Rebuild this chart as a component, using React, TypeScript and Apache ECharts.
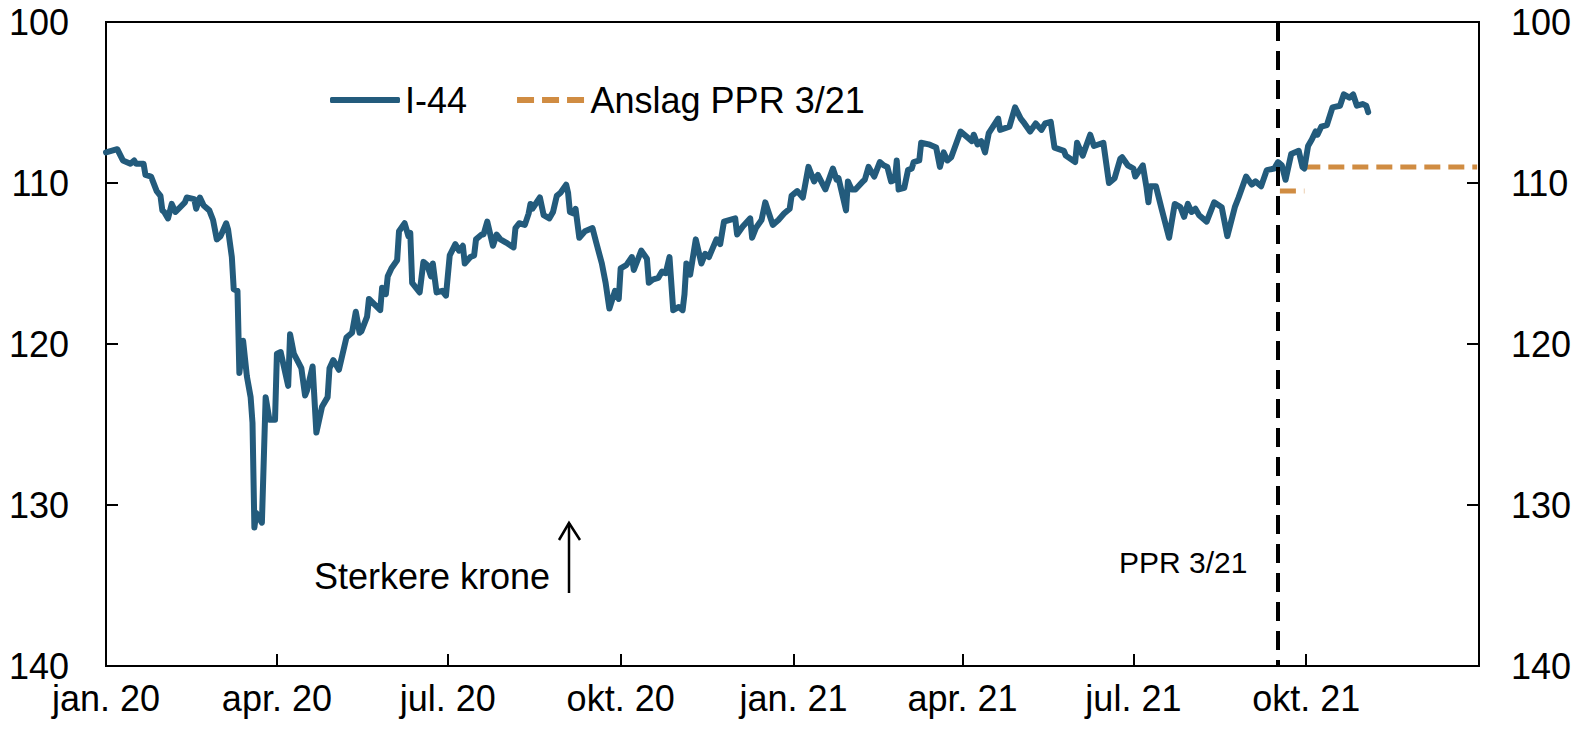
import React, { useEffect, useRef } from "react";
import * as echarts from "echarts";

// I-44 daily index (inverted axis: lower = stronger krone)
const i44Dates = [
  "2020-01-01","2020-01-07","2020-01-10","2020-01-14","2020-01-16","2020-01-17","2020-01-21","2020-01-22","2020-01-25","2020-01-28",
  "2020-01-30","2020-01-31","2020-02-01","2020-02-03","2020-02-05","2020-02-07","2020-02-12","2020-02-13","2020-02-17","2020-02-18",
  "2020-02-20","2020-02-22","2020-02-25","2020-02-27","2020-02-29","2020-03-02","2020-03-05","2020-03-06","2020-03-08","2020-03-09",
  "2020-03-11","2020-03-12","2020-03-14","2020-03-16","2020-03-18","2020-03-19","2020-03-20","2020-03-21","2020-03-24","2020-03-26",
  "2020-03-28","2020-03-31","2020-04-01","2020-04-03","2020-04-07","2020-04-08","2020-04-10","2020-04-14","2020-04-16","2020-04-17",
  "2020-04-20","2020-04-22","2020-04-25","2020-04-28","2020-04-29","2020-05-01","2020-05-04","2020-05-08","2020-05-11","2020-05-13",
  "2020-05-15","2020-05-16","2020-05-19","2020-05-20","2020-05-26","2020-05-27","2020-05-29","2020-05-30","2020-06-01","2020-06-04",
  "2020-06-05","2020-06-08","2020-06-10","2020-06-11","2020-06-12","2020-06-16","2020-06-18","2020-06-20","2020-06-22","2020-06-23",
  "2020-06-25","2020-06-28","2020-06-30","2020-07-02","2020-07-05","2020-07-07","2020-07-09","2020-07-10","2020-07-13","2020-07-15",
  "2020-07-16","2020-07-19","2020-07-20","2020-07-22","2020-07-23","2020-07-25","2020-07-27","2020-07-29","2020-08-01","2020-08-05",
  "2020-08-06","2020-08-08","2020-08-11","2020-08-13","2020-08-14","2020-08-15","2020-08-19","2020-08-21","2020-08-24","2020-08-26",
  "2020-08-28","2020-08-30","2020-09-02","2020-09-03","2020-09-04","2020-09-06","2020-09-07","2020-09-09","2020-09-12","2020-09-16",
  "2020-09-18","2020-09-21","2020-09-23","2020-09-25","2020-09-28","2020-09-30","2020-10-01","2020-10-04","2020-10-07","2020-10-08",
  "2020-10-10","2020-10-12","2020-10-15","2020-10-16","2020-10-18","2020-10-21","2020-10-23","2020-10-25","2020-10-27","2020-10-29",
  "2020-11-01","2020-11-03","2020-11-04","2020-11-05","2020-11-07","2020-11-10","2020-11-13","2020-11-15","2020-11-17","2020-11-21",
  "2020-11-23","2020-11-25","2020-12-01","2020-12-02","2020-12-05","2020-12-09","2020-12-10","2020-12-12","2020-12-15","2020-12-17",
  "2020-12-19","2020-12-21","2020-12-24","2020-12-27","2020-12-30","2020-12-31","2021-01-03","2021-01-06","2021-01-09","2021-01-12",
  "2021-01-14","2021-01-18","2021-01-22","2021-01-24","2021-01-25","2021-01-29","2021-01-30","2021-02-01","2021-02-03","2021-02-07",
  "2021-02-08","2021-02-10","2021-02-13","2021-02-16","2021-02-18","2021-02-20","2021-02-22","2021-02-24","2021-02-25","2021-02-26",
  "2021-03-01","2021-03-03","2021-03-05","2021-03-06","2021-03-09","2021-03-10","2021-03-14","2021-03-18","2021-03-20","2021-03-22",
  "2021-03-24","2021-03-26","2021-03-31","2021-04-06","2021-04-07","2021-04-09","2021-04-11","2021-04-13","2021-04-15","2021-04-20",
  "2021-04-21","2021-04-26","2021-04-29","2021-05-02","2021-05-04","2021-05-07","2021-05-10","2021-05-13","2021-05-15","2021-05-18",
  "2021-05-20","2021-05-25","2021-05-26","2021-05-31","2021-06-01","2021-06-04","2021-06-08","2021-06-10","2021-06-15","2021-06-18",
  "2021-06-21","2021-06-24","2021-06-25","2021-06-28","2021-07-01","2021-07-02","2021-07-06","2021-07-08","2021-07-09","2021-07-10",
  "2021-07-13","2021-07-16","2021-07-20","2021-07-23","2021-07-26","2021-07-28","2021-07-30","2021-08-01","2021-08-03","2021-08-05",
  "2021-08-09","2021-08-13","2021-08-17","2021-08-20","2021-08-24","2021-08-26","2021-08-30","2021-09-02","2021-09-04","2021-09-07",
  "2021-09-10","2021-09-14","2021-09-16","2021-09-18","2021-09-20","2021-09-23","2021-09-27","2021-09-29","2021-09-30","2021-10-02",
  "2021-10-04","2021-10-06","2021-10-07","2021-10-09","2021-10-12","2021-10-15","2021-10-19","2021-10-21","2021-10-24","2021-10-26",
  "2021-10-28","2021-10-31","2021-11-02","2021-11-03"
];
const i44Values = [
  108.1,107.9,108.6,108.8,108.6,108.8,108.8,109.5,109.6,110.5,
  110.8,111.7,111.8,112.2,111.3,111.8,111.2,110.9,111.0,111.6,
  110.9,111.4,111.7,112.3,113.5,113.3,112.5,112.9,114.6,116.6,
  116.7,121.8,119.8,122.0,123.3,124.9,131.4,130.5,131.1,123.3,
  124.7,124.7,120.6,120.5,122.6,119.4,120.6,121.5,123.2,122.9,
  121.4,125.5,123.9,123.3,121.5,121.0,121.6,119.6,119.3,118.0,
  119.3,119.2,118.3,117.2,117.9,116.5,116.9,115.8,115.3,114.8,
  113.0,112.5,113.3,113.1,116.2,116.8,114.9,115.1,115.8,115.0,
  116.8,116.7,117.0,114.5,113.8,114.2,113.9,115.0,114.6,114.5,
  113.5,113.2,113.2,112.4,112.9,113.9,113.2,113.5,113.7,114.0,
  112.8,112.5,112.6,111.9,111.3,111.6,110.9,112.0,112.2,111.8,
  110.8,110.6,110.1,110.6,111.8,111.9,111.6,113.4,113.0,112.8,
  113.7,115.0,116.2,117.8,116.7,117.2,115.3,115.1,114.6,115.4,
  114.8,114.2,114.7,116.2,116.0,115.9,115.5,115.6,114.6,117.9,
  117.7,117.9,116.9,115.0,115.7,113.5,115.0,114.4,114.6,113.5,
  113.8,112.4,112.2,113.2,112.7,112.2,113.4,112.8,112.3,111.2,
  111.9,112.6,112.3,111.9,111.6,110.8,110.5,110.9,109.0,109.9,
  109.5,110.4,109.1,109.8,109.7,111.7,109.9,110.4,110.4,109.9,
  109.8,109.0,109.6,108.7,108.9,109.0,109.9,109.8,108.6,110.4,
  110.3,109.2,109.1,108.7,108.6,107.5,107.6,107.8,109.0,108.1,
  108.6,108.4,106.8,107.4,107.0,107.6,107.4,108.1,106.9,106.0,
  106.7,106.5,105.3,106.0,106.3,106.8,106.3,106.7,106.3,106.2,
  107.8,108.0,108.3,108.7,107.5,108.3,107.0,107.7,107.5,110.0,
  109.7,108.5,108.4,108.9,109.1,109.6,108.9,110.3,111.2,110.2,
  110.2,111.6,113.4,111.3,111.5,112.1,111.3,111.8,111.6,112.0,
  112.4,111.2,111.5,113.3,111.5,110.9,109.6,110.1,109.9,110.2,
  109.2,109.1,108.7,108.9,109.8,108.2,108.0,109.0,109.1,107.7,
  107.3,106.8,107.0,106.5,106.4,105.3,105.2,104.5,104.7,104.5,
  105.2,105.1,105.2,105.6
];

// Forecast MPR 3/21 (Q3 and Q4 2021); null = break
const forecastDates = ["2021-09-17", "2021-09-30", "2021-09-30", "2021-09-30", "2021-12-31"];
const forecastValues: (number | null)[] = [110.5, 110.5, null, 109.0, 109.0];

const pprDate = "2021-09-16";
const xMin = "2020-01-01";
const xMax = "2022-01-01";
const quarterTicks = [
  "2020-01-01","2020-04-01","2020-07-01","2020-10-01",
  "2021-01-01","2021-04-01","2021-07-01","2021-10-01"
];
const monthNames = ["jan.","feb.","mar.","apr.","mai","jun.","jul.","aug.","sep.","okt.","nov.","des."];
const yMin = 100, yMax = 140, yStep = 10;

const BLUE = "#235b7c";
const ORANGE = "#d08c42";
const FONT = "Liberation Sans, Arial, sans-serif";

const toTs = (s: string) => {
  const [y, m, d] = s.split("-").map(Number);
  return new Date(y, m - 1, d).getTime();
};

export default function App() {
  const ref = useRef<HTMLDivElement>(null);
  useEffect(() => {
    if (!ref.current) return;
    const chart = echarts.init(ref.current, null, { renderer: "svg" });
    const tickTs = quarterTicks.map(toTs);
    const yAxisBase = {
      type: "value",
      inverse: true,
      min: yMin,
      max: yMax,
      interval: yStep,
      splitLine: { show: false },
      axisLine: { show: true, lineStyle: { color: "#000", width: 2 } },
      axisTick: { show: true, inside: true, length: 12, lineStyle: { color: "#000", width: 2 } },
      axisLabel: { color: "#000", fontSize: 36, fontFamily: FONT },
    };
    chart.setOption({
      animation: false,
      textStyle: { fontFamily: FONT },
      grid: {
        left: 106, right: 108, top: 22, bottom: 65,
        show: true, borderColor: "#000", borderWidth: 2, containLabel: false,
      },
      legend: {
        left: 325, top: 77,
        itemWidth: 70, itemHeight: 6, itemGap: 50,
        textStyle: { fontSize: 36, color: "#000", fontFamily: FONT },
        data: [
          { name: "I-44", icon: "roundRect" },
          { name: "Anslag PPR 3/21", icon: "path://M0,0h17v6h-17z M25,0h17v6h-17z M50,0h17v6h-17z" },
        ],
      },
      xAxis: {
        type: "value",
        min: toTs(xMin),
        max: toTs(xMax),
        splitLine: { show: false },
        axisLine: { show: true, lineStyle: { color: "#000", width: 2 } },
        axisTick: { show: true, inside: true, length: 12, customValues: tickTs, lineStyle: { color: "#000", width: 2 } },
        axisLabel: {
          customValues: tickTs,
          color: "#000", fontSize: 36, fontFamily: FONT, margin: 14,
          formatter: (v: number) => {
            const d = new Date(v);
            return monthNames[d.getMonth()] + " " + String(d.getFullYear()).slice(2);
          },
        },
      },
      yAxis: [
        { ...yAxisBase, position: "left", axisLabel: { ...yAxisBase.axisLabel, margin: 37 } },
        { ...yAxisBase, position: "right", axisLabel: { ...yAxisBase.axisLabel, margin: 32 } },
      ],
      series: [
        {
          name: "I-44",
          type: "line",
          symbol: "none",
          data: i44Dates.map((d, i) => [toTs(d), i44Values[i]]),
          lineStyle: { color: BLUE, width: 6, cap: "round", join: "round" },
          itemStyle: { color: BLUE },
          z: 3,
        },
        {
          name: "Anslag PPR 3/21",
          type: "line",
          symbol: "none",
          connectNulls: false,
          data: forecastDates.map((d, i) => [toTs(d), forecastValues[i] === null ? "-" : forecastValues[i]]),
          lineStyle: { color: ORANGE, width: 5, type: [16, 8], cap: "butt" },
          itemStyle: { color: ORANGE },
          z: 2,
          markLine: {
            silent: true,
            symbol: "none",
            label: { show: false },
            lineStyle: { color: "#000", width: 4, type: [19, 10] },
            data: [{ xAxis: toTs(pprDate) }],
          },
        },
      ],
      graphic: [
        {
          type: "text",
          left: 314, top: 579 - 21,
          style: { text: "Sterkere krone", fontSize: 36, fontFamily: FONT, fill: "#000" },
        },
        {
          type: "line",
          shape: { x1: 569, y1: 593, x2: 569, y2: 523 },
          style: { stroke: "#000", lineWidth: 2.5 },
        },
        {
          type: "polyline",
          shape: { points: [[559, 540], [569, 523], [580, 540]] },
          style: { stroke: "#000", lineWidth: 2.5, fill: null },
        },
        {
          type: "text",
          left: 1119, top: 564 - 17,
          style: { text: "PPR 3/21", fontSize: 30, fontFamily: FONT, fill: "#000" },
        },
      ],
    });
    return () => chart.dispose();
  }, []);
  return (
    <div
      ref={ref}
      style={{ position: "absolute", left: 0, top: 0, width: 1587, height: 731, background: "#fff" }}
    />
  );
}
